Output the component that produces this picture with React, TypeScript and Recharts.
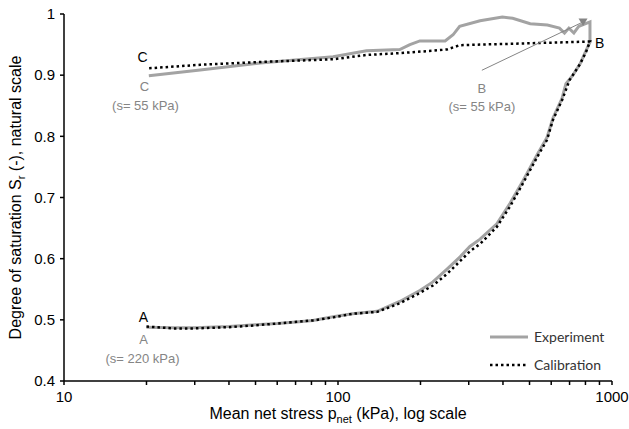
import { LineChart, Line, XAxis, YAxis, ReferenceDot, ReferenceLine, Legend } from 'recharts';

// Experiment path: A -> B (loading), then B -> C (unloading)
const expP = [20, 25, 30, 40, 50, 60, 72, 81, 96, 113, 139, 168, 199, 222, 250, 279, 303, 330, 380, 424, 473, 533, 579, 609, 657, 679, 720, 764, 804, 831,
  831, 757, 726, 696, 671, 643, 581, 503, 434, 398, 330, 278, 263, 246, 199, 183, 168, 127, 96, 52, 31.4, 20.4];
const expSr = [0.488, 0.487, 0.487, 0.489, 0.492, 0.494, 0.497, 0.499, 0.505, 0.510, 0.514, 0.530, 0.548, 0.562, 0.583, 0.603, 0.620, 0.632, 0.657, 0.690, 0.727, 0.770, 0.798, 0.830, 0.862, 0.886, 0.900, 0.918, 0.940, 0.954,
  0.987, 0.980, 0.969, 0.977, 0.969, 0.977, 0.982, 0.984, 0.993, 0.995, 0.989, 0.980, 0.966, 0.956, 0.956, 0.950, 0.942, 0.940, 0.930, 0.920, 0.9085, 0.899];

// Calibration path
const calP = [20, 25, 30, 40, 50, 60, 72, 81, 96, 113, 139, 168, 199, 222, 250, 279, 303, 330, 380, 424, 473, 533, 579, 609, 657, 700, 764, 804, 831,
  700, 407, 330, 278, 250, 222, 168, 127, 96, 55, 31.4, 20];
const calSr = [0.489, 0.486, 0.486, 0.488, 0.491, 0.494, 0.497, 0.499, 0.504, 0.510, 0.513, 0.527, 0.544, 0.556, 0.575, 0.596, 0.612, 0.624, 0.652, 0.685, 0.723, 0.766, 0.794, 0.827, 0.859, 0.892, 0.918, 0.938, 0.955,
  0.954, 0.951, 0.950, 0.949, 0.942, 0.940, 0.936, 0.933, 0.926, 0.922, 0.917, 0.911];

const xTicks = [10, 20, 30, 40, 50, 60, 70, 80, 90, 100, 200, 300, 400, 500, 600, 700, 800, 900, 1000];
const xLabels = [10, 100, 1000];
const yTicks = [0.4, 0.5, 0.6, 0.7, 0.8, 0.9, 1];

const expData = expP.map((p, i) => ({ p, sr: expSr[i] }));
const calData = calP.map((p, i) => ({ p, sr: calSr[i] }));

const GRAY = '#a3a3a3';
const NOTE = '#858585';
const FONT = '"Liberation Sans", Arial, sans-serif';

const noteText = (lines: { t: string; dx: number; dy: number; c: string; size?: number; anchor?: string }[]) =>
  (props: any) => (
    <g>
      {lines.map((l, i) => (
        <text key={i} x={props.cx + l.dx} y={props.cy + l.dy} fill={l.c} fontSize={l.size || 14}
          fontFamily={FONT} textAnchor={l.anchor || 'middle'}>{l.t}</text>
      ))}
    </g>
  );

const arrowHead = (props: any) => (
  <polygon points={`${props.cx - 4.5},${props.cy - 3.5} ${props.cx + 4.5},${props.cy - 3.5} ${props.cx},${props.cy + 4}`} fill={NOTE} />
);

const LegendBox = () => (
  <div style={{ fontFamily: 'Lato, sans-serif', fontSize: 14, color: '#333', lineHeight: '28px' }}>
    <div style={{ display: 'flex', alignItems: 'center' }}>
      <svg width={46} height={10}><line x1={2} y1={5} x2={40} y2={5} stroke={GRAY} strokeWidth={3} /></svg>
      <span>Experiment</span>
    </div>
    <div style={{ display: 'flex', alignItems: 'center' }}>
      <svg width={46} height={10}><line x1={2} y1={5} x2={40} y2={5} stroke="#000" strokeWidth={2.5} strokeDasharray="2.5 3" /></svg>
      <span>Calibration</span>
    </div>
  </div>
);

const YTitle = (props: any) => {
  const vb = props.viewBox;
  const cy = vb.y + vb.height / 2;
  return (
    <text x={21} y={cy} transform={`rotate(-90, 21, ${cy})`} textAnchor="middle" fontSize={16} fontFamily={FONT} fill="#000">
      Degree of saturation S<tspan fontSize={11} dy={4}>r</tspan><tspan dy={-4}> (-),  natural scale</tspan>
    </text>
  );
};

const XTitle = (props: any) => {
  const vb = props.viewBox;
  const cx = vb.x + vb.width / 2;
  return (
    <text x={cx} y={419} textAnchor="middle" fontSize={16} fontFamily={FONT} fill="#000">
      Mean net stress p<tspan fontSize={11} dy={4}>net</tspan><tspan dy={-4}> (kPa), log scale</tspan>
    </text>
  );
};

export default function App() {
  return (
    <div style={{ position: 'absolute', left: 0, top: 0, background: '#fff' }}>
      <LineChart width={629} height={429} margin={{ top: 14, right: 17, bottom: 0, left: 0 }}>
        <XAxis
          dataKey="p"
          type="number"
          scale="log"
          domain={[10, 1000]}
          ticks={xTicks}
          interval={0}
          tickFormatter={(v: number) => (xLabels.includes(v) ? String(v) : '')}
          allowDataOverflow
          height={48}
          stroke="#000"
          strokeWidth={1.5}
          tickSize={4}
          tickMargin={6}
          tick={{ fill: '#000', fontSize: 15, fontFamily: FONT }}
          label={<XTitle />}
        />
        <YAxis
          dataKey="sr"
          type="number"
          domain={[0.4, 1]}
          ticks={yTicks}
          interval={0}
          tickFormatter={(v: number) => String(+v.toFixed(1))}
          allowDataOverflow
          width={64}
          stroke="#000"
          strokeWidth={1.5}
          tickSize={4}
          tickMargin={5}
          tick={{ fill: '#000', fontSize: 15, fontFamily: FONT }}
          label={<YTitle />}
        />
        <Line data={expData} dataKey="sr" stroke={GRAY} strokeWidth={3} dot={false} isAnimationActive={false} name="Experiment" />
        <Line data={calData} dataKey="sr" stroke="#000" strokeWidth={2.5} strokeDasharray="2.5 3" dot={false} isAnimationActive={false} name="Calibration" />
        <ReferenceLine segment={[{ x: 335, y: 0.908 }, { x: 784, y: 0.987 }]} stroke={NOTE} strokeWidth={1} />
        <ReferenceDot x={784} y={0.987} r={4} shape={arrowHead} />
        <ReferenceDot x={20} y={0.911} r={1} shape={noteText([
          { t: 'C', dx: -4, dy: -6, c: '#000' },
          { t: 'C', dx: -2, dy: 23, c: NOTE, size: 13 },
          { t: '(s= 55 kPa)', dx: -1, dy: 42, c: NOTE, size: 13 },
        ])} />
        <ReferenceDot x={20} y={0.488} r={1} shape={noteText([
          { t: 'A', dx: -3, dy: -5, c: '#000' },
          { t: 'A', dx: -3, dy: 17, c: NOTE, size: 13 },
          { t: '(s= 220 kPa)', dx: -4, dy: 36, c: NOTE, size: 13 },
        ])} />
        <ReferenceDot x={831} y={0.955} r={1} shape={noteText([
          { t: 'B', dx: 5, dy: 6, c: '#000', anchor: 'start' },
        ])} />
        <ReferenceDot x={335} y={0.908} r={1} shape={noteText([
          { t: 'B', dx: 0, dy: 23, c: NOTE, size: 13 },
          { t: '(s= 55 kPa)', dx: 0, dy: 41, c: NOTE, size: 13 },
        ])} />
        <Legend layout="horizontal" verticalAlign="middle" align="center" wrapperStyle={{ left: 488, top: 323, width: 140 }} content={<LegendBox />} />
      </LineChart>
    </div>
  );
}
